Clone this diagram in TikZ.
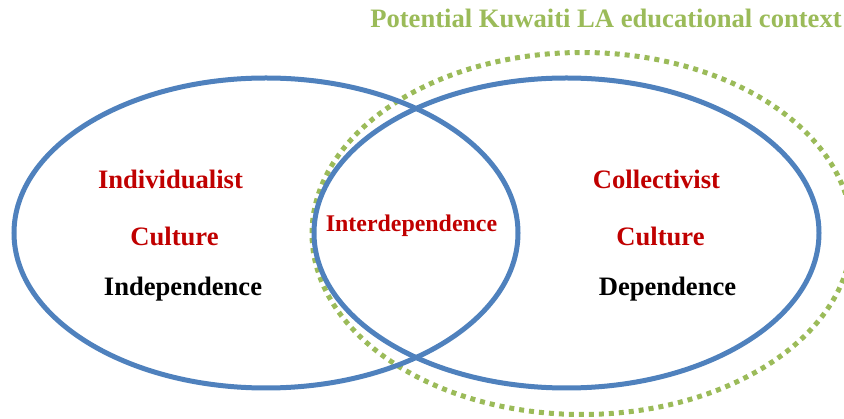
\documentclass[tikz,border=0pt]{standalone}
\usepackage{fontspec}
\setmainfont{Liberation Serif}
\definecolor{vennblue}{HTML}{4F81BD}
\definecolor{vennred}{HTML}{C00000}
\definecolor{venngreen}{HTML}{9BBB59}
\tikzset{
	culture/.style={line width=5pt, color=vennblue},
	context/.style={line width=5pt, color=venngreen, dash pattern=on 5pt off 5pt},
	label/.style={anchor=base, inner sep=0pt, font=\fontsize{26.6}{30}\selectfont\bfseries},
	redlabel/.style={label, text=vennred}
}

\begin{document}
\begin{tikzpicture}[x=1pt, y=-1pt]
		%%%%% START %%%%%
		\useasboundingbox (0, 0) rectangle (844, 419);
		
		\draw[context] (582, 233.5) ellipse [x radius=270pt, y radius=181pt];
		\node[label, text=venngreen] (title) at (606, 28) {Potential Kuwaiti LA educational context};
		
		\draw[culture] (266, 233) ellipse [x radius=252pt, y radius=155pt];
		\draw[culture] (566.5, 233) ellipse [x radius=252.5pt, y radius=155pt];
		
		\node[redlabel] (indiv) at (170.5, 189) {Individualist};
		\node[redlabel] (indivcult) at (174.5, 246) {Culture};
		\node[label] (indep) at (183, 296) {Independence};
		
		\node[redlabel, font=\fontsize{23.9}{28}\selectfont\bfseries] (interdep) at (411.5, 232) {Interdependence};
		
		\node[redlabel] (collect) at (656.5, 189) {Collectivist};
		\node[redlabel] (collectcult) at (660.5, 246) {Culture};
		\node[label] (dep) at (667.5, 296) {Dependence};
		
		%%%%% END %%%%%
	\end{tikzpicture}
\end{document}
